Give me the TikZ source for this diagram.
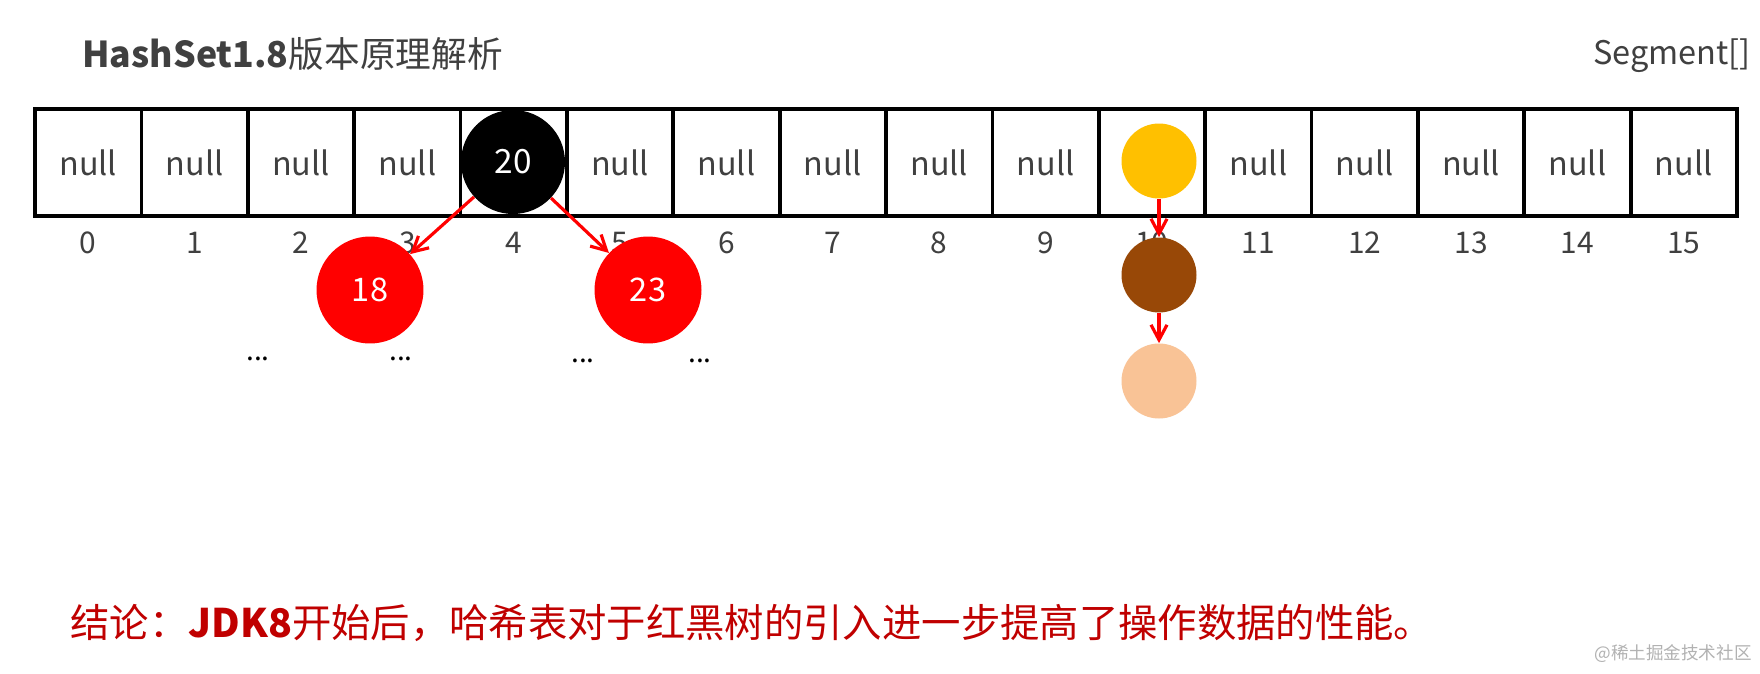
\documentclass[tikz,border=0pt]{standalone}
\usepackage{fontspec}
\setmainfont{Noto Sans CJK SC}
\usetikzlibrary{arrows.meta, positioning}
\definecolor{cgrey}{HTML}{404040}
\definecolor{cred}{HTML}{FF0000}
\definecolor{cdark}{HTML}{C00000}
\definecolor{cyellow}{HTML}{FFC000}
\definecolor{cbrown}{HTML}{984807}
\definecolor{cpeach}{HTML}{F9C396}
\tikzset{
  px/.style={x=0.02cm, y=-0.02cm},
  cell/.style={draw=black, line width=2.1pt, minimum width=2.1275cm, minimum height=2.14cm, inner sep=0pt, text=cgrey, font=\fontsize{18.4}{22}\selectfont},
  idx/.style={text=cgrey, inner sep=0pt, font=\fontsize{17}{20}\selectfont},
  tnode/.style={circle, fill=#1, inner sep=0pt, minimum size=2.14cm, text=white, font=\fontsize{18.5}{22}\selectfont},
  lnode/.style={circle, fill=#1, inner sep=0pt, minimum size=1.5cm},
  arrow/.style={-{Straight Barb[length=3mm, width=3.2mm]}, draw=cred, line width=1.8pt},
  dots/.style={inner sep=0pt, text=black, font=\fontsize{16}{18}\selectfont},
  title/.style={inner sep=0pt, text=cgrey, font=\fontsize{20.3}{24}\selectfont},
}

\begin{document}
\begin{tikzpicture}[px]
  \fill[white] (0,0) rectangle (1760,673);
  \useasboundingbox (0,0) rectangle (1760,673);
  \node[title, anchor=base west] (head) at (82,67) {\textbf{HashSet1.8}版本原理解析};
  \node[title, anchor=base east, font=\fontsize{18.5}{22}\selectfont] (seg) at (1751,64) {Segment[]};
  % array of buckets
  \foreach \lbl [count=\i from 0] in {null,null,null,null,{},null,null,null,null,null,{},null,null,null,null,null} {
    \node[cell] (c\i) at ({88.2+106.375*\i},162.5) {\lbl};
    \node[idx] (i\i) at ({88.2+106.375*\i},243) {\i};
  }
  % red-black tree in bucket 4
  \node[tnode=black, minimum size=2.08cm, font=\fontsize{19}{22}\selectfont] (n20) at (513,162) {20};
  \node[tnode=cred] (n18) at (370,290) {18};
  \node[tnode=cred] (n23) at (648,290) {23};
  \draw[arrow] (n20) -- (n18);
  \draw[arrow] (n20) -- (n23);
  \node[dots] (d1) at (258,359) {...};
  \node[dots] (d2) at (401,359) {...};
  \node[dots] (d3) at (583,361) {...};
  \node[dots] (d4) at (700,361) {...};
  % linked list in bucket 10
  \node[lnode=cyellow] (y1) at (1159,161) {};
  \node[lnode=cbrown] (y2) at (1159,275) {};
  \node[lnode=cpeach] (y3) at (1159,381) {};
  \draw[arrow] (y1) -- (y2);
  \draw[arrow] (y2) -- (y3);
  \node[inner sep=0pt, anchor=base west, text=cdark, font=\fontsize{22.4}{26}\selectfont] (concl) at (70,637) {结论：\textbf{JDK8}开始后，哈希表对于红黑树的引入进一步提高了操作数据的性能。};
  \node[inner sep=0pt, anchor=east, text=black!30, font=\fontsize{10}{12}\selectfont] (mark) at (1752,654) {@稀土掘金技术社区};
\end{tikzpicture}
\end{document}
